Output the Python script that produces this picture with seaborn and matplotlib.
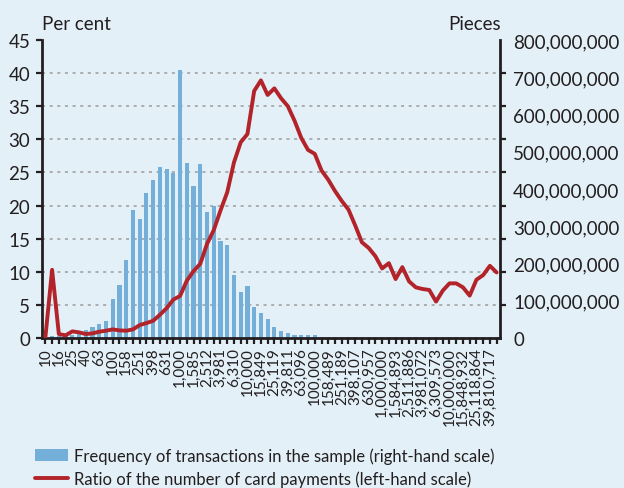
import numpy as np
import pandas as pd
import matplotlib
matplotlib.use("Agg")
import matplotlib.pyplot as plt
import seaborn as sns
from matplotlib.ticker import FixedLocator, FuncFormatter

# ---------------- data ----------------
bins = ["10", "13", "16", "20", "25", "32", "40", "50", "63", "79",
        "100", "126", "158", "200", "251", "316", "398", "501", "631", "794",
        "1,000", "1,259", "1,585", "1,995", "2,512", "3,162", "3,981", "5,012", "6,310", "7,943",
        "10,000", "12,589", "15,849", "19,953", "25,119", "31,623", "39,811", "50,119", "63,096", "79,433",
        "100,000", "125,893", "158,489", "199,526", "251,189", "316,228", "398,107", "501,187", "630,957", "794,328",
        "1,000,000", "1,258,925", "1,584,893", "1,995,262", "2,511,886", "3,162,278", "3,981,072", "5,011,872",
        "6,309,573", "7,943,282", "10,000,000", "12,589,254", "15,848,932", "19,952,623", "25,118,864",
        "31,622,777", "39,810,717", "50,118,723"]

tick_labels = ["10", "16", "25", "40", "63", "100", "158", "251", "398", "631",
               "1,000", "1,585", "2,512", "3,981", "6,310", "10,000", "15,849", "25,119", "39,811",
               "63,096", "100,000", "158,489", "251,189", "398,107", "630,957", "1,000,000",
               "1,584,893", "2,511,886", "3,981,072", "6,309,573", "10,000,000", "15,848,932",
               "25,118,864", "39,810,717"]

# frequency of transactions (millions of pieces, right-hand scale)
freq_millions = [2, 6, 5, 5, 9, 16, 21, 30, 37, 46,
                 105, 142, 210, 343, 320, 389, 425, 459, 453, 443,
                 720, 469, 409, 468, 338, 354, 260, 249, 169, 123,
                 139, 84, 68, 52, 30, 20, 13, 8, 8, 8,
                 7, 4, 4, 4, 4, 4, 4, 4, 4, 3,
                 3, 3, 3, 3, 3, 3, 3, 3, 3, 3,
                 3, 3, 3, 3, 3, 3, 3, 3]

# ratio of the number of card payments (per cent, left-hand scale)
ratio_pct = [0.1, 10.3, 0.6, 0.4, 1.0, 0.85, 0.6, 0.7, 0.95, 1.1,
             1.3, 1.15, 1.1, 1.3, 1.95, 2.25, 2.6, 3.5, 4.5, 5.8,
             6.35, 8.65, 10.1, 11.2, 14.2, 16.3, 19.25, 22.0, 26.5, 29.55,
             30.8, 37.3, 38.9, 36.7, 37.7, 36.2, 35.0, 32.8, 30.2, 28.4,
             27.8, 25.3, 23.9, 22.2, 20.7, 19.4, 17.0, 14.45, 13.6, 12.35,
             10.5, 11.3, 8.9, 10.7, 8.55, 7.65, 7.4, 7.25, 5.5, 7.15,
             8.25, 8.25, 7.65, 6.4, 8.8, 9.5, 10.9, 9.9]

left_ticks = [0, 5, 10, 15, 20, 25, 30, 35, 40, 45]
right_ticks_millions = [0, 100, 200, 300, 400, 500, 600, 700, 800]

leg_bar = "Frequency of transactions in the sample (right-hand scale)"
leg_line = "Ratio of the number of card payments (left-hand scale)"

# ---------------- style ----------------
BG = "#e3f0f8"
BAR = "#74afda"
RED = "#b2232a"
INK = "#231f20"

sns.set_theme(style="white")
plt.rcParams['font.family'] = ['Lato', 'DejaVu Sans']
plt.rcParams['text.color'] = INK

df = pd.DataFrame({"bin": bins,
                   "freq": np.array(freq_millions, dtype=float) * 1e6,
                   "ratio": ratio_pct})

fig = plt.figure(figsize=(6.24, 4.89), dpi=100, facecolor=BG)
axL = fig.add_axes([42 / 624, 1 - 339 / 489, 458 / 624, 298 / 489])
axR = axL.twinx()
axR.set_zorder(1)
axL.set_zorder(2)
axL.patch.set_visible(False)
axR.patch.set_visible(False)

sns.barplot(data=df, x="bin", y="freq", ax=axR, color=BAR, width=0.62,
            saturation=1, label=leg_bar, linewidth=0, edgecolor=BAR, zorder=2)
sns.lineplot(data=df, x="bin", y="ratio", ax=axL, color=RED, lw=2.8,
             sort=False, label=leg_line, zorder=5)

# collect legend handles
hb, lb = axR.get_legend_handles_labels()
hl, ll = axL.get_legend_handles_labels()
for a in (axL, axR):
    if a.get_legend() is not None:
        a.get_legend().remove()

# left axis
axL.set_ylim(0, 45)
axL.set_yticks(left_ticks)
axL.set_xlim(-0.5, len(bins) - 0.5)
axL.set_xticks(range(len(bins)))
axL.set_xticklabels([b if b in tick_labels else "" for b in bins], rotation=90)
axL.set_xlabel("")
axL.set_ylabel("")
axL.tick_params(axis="y", which="major", left=True, length=4.5, width=1.6,
                color=INK, labelsize=13.5, pad=4, labelcolor=INK)
axL.tick_params(axis="x", which="major", bottom=True, length=4.5, width=1.6,
                color=INK, labelsize=11, pad=2, labelcolor=INK)
for s in ["top", "right"]:
    axL.spines[s].set_visible(False)
for s in ["left", "bottom"]:
    axL.spines[s].set_visible(True)
    axL.spines[s].set_color(INK)
    axL.spines[s].set_linewidth(2)

# right axis
axR.set_ylim(0, 800e6)
axR.set_ylabel("")
axR.set_xlabel("")
axR.yaxis.set_major_locator(FixedLocator([v * 1e6 for v in right_ticks_millions]))
axR.yaxis.set_major_formatter(FuncFormatter(lambda v, p: f"{v:,.0f}"))
axR.yaxis.set_minor_locator(FixedLocator([t * 800e6 / 45 for t in left_ticks]))
axR.tick_params(axis="y", which="major", right=True, length=0, pad=9.5,
                labelsize=13.5, labelcolor=INK)
axR.tick_params(axis="y", which="minor", right=True, length=4.5, width=1.6,
                color=INK)
axR.yaxis.grid(False, which="major")
axR.yaxis.grid(True, which="minor", linestyle=(0, (2, 3)), color="#9c9c9c", lw=1.1)
axR.set_axisbelow(True)
for s in ["top", "left", "bottom"]:
    axR.spines[s].set_visible(False)
axR.spines["right"].set_visible(True)
axR.spines["right"].set_color(INK)
axR.spines["right"].set_linewidth(2)

# axis titles
fig.text(42 / 624, 1 - 24 / 489, "Per cent", ha="left", va="center", fontsize=13.5, color=INK)
fig.text(501 / 624, 1 - 24 / 489, "Pieces", ha="right", va="center", fontsize=13.5, color=INK)

# legend
fig.legend(handles=[hb[0], hl[0]], labels=[leg_bar, leg_line],
           loc="upper left", bbox_to_anchor=(35 / 624, 1 - 448 / 489),
           frameon=False, fontsize=12, handlelength=1.95, handletextpad=0.4,
           labelspacing=0.42, borderpad=0, borderaxespad=0)

fig.savefig("out.png", dpi=100, facecolor=BG)
